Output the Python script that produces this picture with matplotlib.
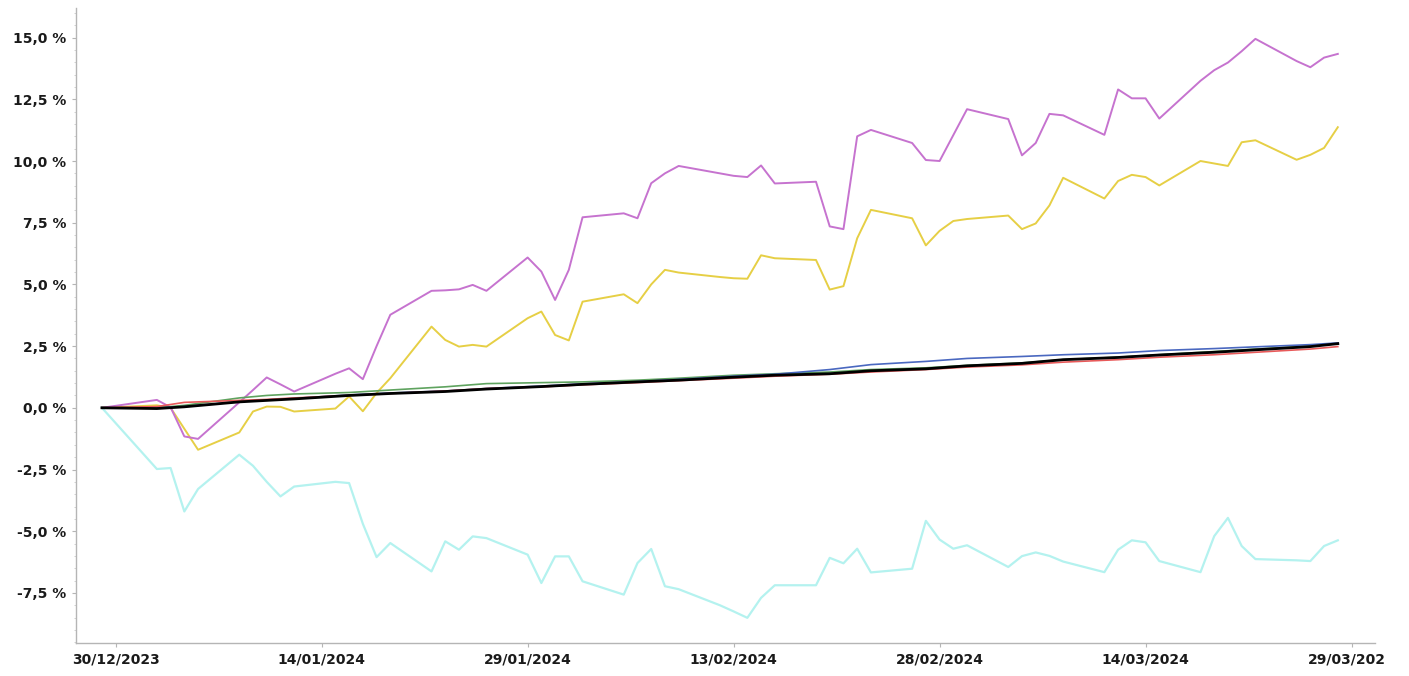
import pandas as pd
import matplotlib.pyplot as plt
import matplotlib.dates as mdates
from matplotlib.ticker import FuncFormatter, MultipleLocator
from matplotlib.transforms import Bbox, TransformedBbox

# trading days (common to the three volatile series)
trade_days = [
    "2023-12-29",
    "2024-01-02", "2024-01-03", "2024-01-04", "2024-01-05", "2024-01-08", "2024-01-09",
    "2024-01-10", "2024-01-11", "2024-01-12", "2024-01-15", "2024-01-16", "2024-01-17",
    "2024-01-18", "2024-01-19", "2024-01-22", "2024-01-23", "2024-01-24", "2024-01-25",
    "2024-01-26", "2024-01-29", "2024-01-30", "2024-01-31",
    "2024-02-01", "2024-02-02", "2024-02-05", "2024-02-06", "2024-02-07", "2024-02-08",
    "2024-02-09", "2024-02-12", "2024-02-13", "2024-02-14", "2024-02-15", "2024-02-16",
    "2024-02-19", "2024-02-20", "2024-02-21", "2024-02-22", "2024-02-23", "2024-02-26",
    "2024-02-27", "2024-02-28", "2024-02-29",
    "2024-03-01", "2024-03-04", "2024-03-05", "2024-03-06", "2024-03-07", "2024-03-08",
    "2024-03-11", "2024-03-12", "2024-03-13", "2024-03-14", "2024-03-15", "2024-03-18",
    "2024-03-19", "2024-03-20", "2024-03-21", "2024-03-22", "2024-03-25", "2024-03-26",
    "2024-03-27", "2024-03-28",
]

purple = [
    0.00,
    0.32, 0.02, -1.16, -1.26, 0.22, 0.72, 1.23, 0.95, 0.66, 1.38, 1.60, 1.16,
    2.50, 3.77, 4.74, 4.76, 4.80, 4.98, 4.74, 6.09, 5.52, 4.37,
    5.59, 7.72, 7.88, 7.68, 9.10, 9.50, 9.80, 9.50, 9.40, 9.35, 9.82, 9.09,
    9.16, 7.35, 7.24, 11.00, 11.26, 10.73, 10.04, 10.00, 11.05,
    12.10, 11.70, 10.23, 10.73, 11.91, 11.85, 11.06, 12.90, 12.54, 12.54, 11.72, 13.25,
    13.68, 13.99, 14.45, 14.95, 14.05, 13.80, 14.19, 14.34,
]

yellow = [
    0.00,
    0.10, 0.00, -0.85, -1.70, -1.00, -0.15, 0.05, 0.04, -0.15, -0.03, 0.46, -0.14,
    0.60, 1.20, 3.29, 2.75, 2.48, 2.55, 2.48, 3.63, 3.90, 2.95,
    2.73, 4.30, 4.60, 4.24, 5.00, 5.59, 5.48, 5.30, 5.25, 5.23, 6.18, 6.06,
    5.99, 4.79, 4.93, 6.87, 8.02, 7.68, 6.58, 7.17, 7.57,
    7.65, 7.79, 7.24, 7.47, 8.20, 9.32, 8.48, 9.19, 9.44, 9.35, 9.01, 10.00,
    9.90, 9.80, 10.76, 10.84, 10.05, 10.25, 10.53, 11.37,
]

cyan = [
    0.00,
    -2.48, -2.44, -4.20, -3.29, -1.90, -2.35, -3.00, -3.59, -3.19, -3.00, -3.05, -4.70,
    -6.05, -5.48, -6.63, -5.41, -5.75, -5.21, -5.28, -5.95, -7.10, -6.02,
    -6.02, -7.03, -7.57, -6.29, -5.72, -7.23, -7.35, -8.00, -8.25, -8.51, -7.70, -7.19,
    -7.19, -6.08, -6.30, -5.71, -6.67, -6.52, -4.58, -5.34, -5.71,
    -5.57, -6.45, -6.01, -5.86, -6.00, -6.23, -6.66, -5.75, -5.37, -5.45, -6.21, -6.66,
    -5.20, -4.46, -5.60, -6.13, -6.18, -6.21, -5.60, -5.37,
]

# smoother series, read on fewer dates
flat_days = [
    "2023-12-29", "2024-01-02", "2024-01-04", "2024-01-08", "2024-01-10", "2024-01-12",
    "2024-01-16", "2024-01-19", "2024-01-23", "2024-01-26", "2024-01-30", "2024-02-02",
    "2024-02-06", "2024-02-09", "2024-02-13", "2024-02-16", "2024-02-20", "2024-02-23",
    "2024-02-27", "2024-03-01", "2024-03-05", "2024-03-08", "2024-03-12", "2024-03-15",
    "2024-03-19", "2024-03-22", "2024-03-26", "2024-03-28",
]

black = [0.00, -0.03, 0.04, 0.24, 0.30, 0.36, 0.50, 0.58, 0.66, 0.76, 0.86, 0.95,
         1.05, 1.12, 1.24, 1.32, 1.38, 1.50, 1.58, 1.70, 1.80, 1.95, 2.04, 2.14,
         2.25, 2.35, 2.48, 2.60]
red = [0.00, 0.05, 0.22, 0.30, 0.34, 0.40, 0.50, 0.58, 0.68, 0.78, 0.85, 0.93,
       1.02, 1.10, 1.20, 1.28, 1.36, 1.45, 1.55, 1.65, 1.74, 1.85, 1.95, 2.05,
       2.15, 2.25, 2.38, 2.48]
green = [0.00, 0.00, 0.10, 0.40, 0.50, 0.56, 0.62, 0.72, 0.85, 0.98, 1.02, 1.05,
         1.12, 1.20, 1.32, 1.38, 1.45, 1.55, 1.62, 1.72, 1.82, 1.95, 2.05, 2.15,
         2.28, 2.38, 2.50, 2.60]
blue = [0.00, 0.00, 0.05, 0.25, 0.32, 0.38, 0.52, 0.60, 0.68, 0.78, 0.88, 0.97,
        1.06, 1.15, 1.28, 1.36, 1.55, 1.75, 1.88, 2.00, 2.08, 2.15, 2.22, 2.32,
        2.40, 2.47, 2.56, 2.63]

tick_dates = ["2023-12-30", "2024-01-14", "2024-01-29", "2024-02-13",
              "2024-02-28", "2024-03-14", "2024-03-29"]


def main():
    d = pd.to_datetime(trade_days)
    fd = pd.to_datetime(flat_days)

    fig = plt.figure(figsize=(14.09, 6.76), dpi=100)
    ax = fig.add_axes([76 / 1409, 33 / 676, (1375 - 76) / 1409, (643 - 8) / 676])

    ax.plot(d, cyan, color='#b4f2ef', lw=1.6)
    ax.plot(d, yellow, color='#e6cf45', lw=1.4)
    ax.plot(d, purple, color='#c673cf', lw=1.4)
    ax.plot(fd, green, color='#5fa35f', lw=1.2)
    ax.plot(fd, blue, color='#4a68c0', lw=1.2)
    ax.plot(fd, red, color='#e85a5a', lw=1.2)
    ax.plot(fd, black, color='black', lw=2.0)

    ax.set_xlim(pd.Timestamp("2023-12-27 02:40"), pd.Timestamp("2024-03-30 17:00"))
    ax.set_ylim(-9.53, 16.2)

    ax.yaxis.set_major_locator(MultipleLocator(2.5))
    ax.yaxis.set_minor_locator(MultipleLocator(0.5))
    ax.yaxis.set_major_formatter(FuncFormatter(lambda v, p: f"{v:.1f} %".replace('.', ',')))

    ax.set_xticks(pd.to_datetime(tick_dates))
    ax.xaxis.set_major_formatter(mdates.DateFormatter('%d/%m/%Y'))

    for s in ['top', 'right']:
        ax.spines[s].set_visible(False)
    for s in ['left', 'bottom']:
        ax.spines[s].set_color('#b5b5b5')
        ax.spines[s].set_linewidth(1.0)

    ax.tick_params(axis='both', which='major', length=3, color='#b5b5b5',
                   labelsize=10, labelcolor='#1a1a1a', pad=4)
    ax.tick_params(axis='y', which='minor', length=1.5, color='#cccccc')
    for lbl in ax.get_xticklabels() + ax.get_yticklabels():
        lbl.set_fontweight('bold')

    # last date label is cut off at the right edge in the original
    fig.canvas.draw()
    clip = TransformedBbox(Bbox([[0, 0], [1385 / 1409, 1]]), fig.transFigure)
    last = ax.xaxis.get_major_ticks()[-1].label1
    last.set_clip_on(True)
    last.set_clip_box(clip)

    fig.savefig('out.png', dpi=100)


if __name__ == "__main__":
    main()
